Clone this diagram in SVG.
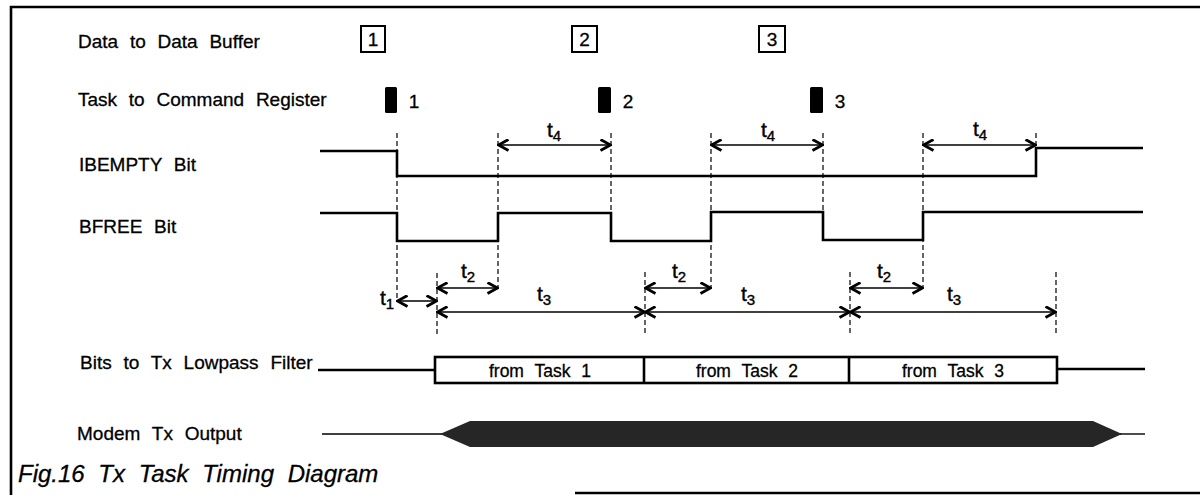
<svg xmlns="http://www.w3.org/2000/svg" width="1200" height="495" viewBox="0 0 1200 495">
<defs>
<marker id="ah" viewBox="0 0 13 13" refX="12" refY="6.5" markerWidth="13" markerHeight="13" markerUnits="userSpaceOnUse" orient="auto-start-reverse">
<path d="M1.5,1 L11.5,6.5 L1.5,12" fill="none" stroke="#000" stroke-width="2.8" stroke-linejoin="miter"/>
</marker>
<style>
.lbl{font-family:"Liberation Sans",Arial,sans-serif;font-size:19px;word-spacing:6.5px;fill:#000;stroke:#000;stroke-width:0.3}
.num{font-family:"Liberation Sans",Arial,sans-serif;font-size:19px;fill:#000;stroke:#000;stroke-width:0.3;text-anchor:middle}
.seg{font-family:"Liberation Sans",Arial,sans-serif;font-size:17.5px;word-spacing:6px;fill:#000;stroke:#000;stroke-width:0.3;text-anchor:middle}
.t{font-family:"Liberation Sans",Arial,sans-serif;font-size:21px;fill:#000;stroke:#000;stroke-width:0.4}
.sub{font-size:15px}
.title{font-family:"Liberation Sans",Arial,sans-serif;font-size:24px;font-style:italic;word-spacing:7px;fill:#000;stroke:#000;stroke-width:0.3}
.sig{fill:none;stroke:#000;stroke-width:2.6;stroke-linejoin:miter}
.thin{fill:none;stroke:#000;stroke-width:1.4}
.dash{fill:none;stroke:#000;stroke-width:1.2;stroke-dasharray:5 3}
.arr{fill:none;stroke:#000;stroke-width:1.4;marker-start:url(#ah);marker-end:url(#ah)}
.box{fill:#fff;stroke:#000;stroke-width:2}
.bar{fill:#000}
</style>
</defs>
<rect x="0" y="0" width="1200" height="495" fill="#fff"/>

<g id="frame" fill="none" stroke="#000" stroke-width="2.6">
<path d="M11,495 V7 H1200"/>
<path d="M575,493 H1200"/>
</g>

<g id="row-data">
<text class="lbl" x="78" y="48">Data to Data Buffer</text>
<g id="data1"><rect class="box" x="361" y="26" width="24" height="26"/><text class="num" x="373" y="46">1</text></g>
<g id="data2"><rect class="box" x="572" y="26" width="25" height="26"/><text class="num" x="584.5" y="46">2</text></g>
<g id="data3"><rect class="box" x="759" y="26" width="26" height="26"/><text class="num" x="772" y="46">3</text></g>
</g>

<g id="row-task">
<text class="lbl" x="78" y="106">Task to Command Register</text>
<g id="task1"><rect class="bar" x="385" y="87" width="12" height="26" rx="1.5"/><text class="num" x="414" y="108">1</text></g>
<g id="task2"><rect class="bar" x="598" y="87" width="13" height="26" rx="1.5"/><text class="num" x="628" y="108">2</text></g>
<g id="task3"><rect class="bar" x="810" y="87" width="13" height="26" rx="1.5"/><text class="num" x="840" y="108">3</text></g>
</g>

<g id="connectors">
<g id="dashes">
<path class="dash" d="M397,133 V302"/>
<path class="dash" d="M437,273 V335"/>
<path class="dash" d="M498,133 V288"/>
<path class="dash" d="M611,133 V213"/>
<path class="dash" d="M645,272 V335"/>
<path class="dash" d="M711,133 V288"/>
<path class="dash" d="M823,133 V213"/>
<path class="dash" d="M850,272 V335"/>
<path class="dash" d="M923,133 V288"/>
<path class="dash" d="M1036,133 V148"/>
<path class="dash" d="M1056,272 V334"/>
</g>
<g id="arrows">
<path class="arr" d="M498,145 H611"/>
<path class="arr" d="M711,145 H823"/>
<path class="arr" d="M923,145 H1036"/>
<path class="arr" d="M397,301 H437"/>
<path class="arr" d="M437,288 H498"/>
<path class="arr" d="M645,288 H711"/>
<path class="arr" d="M850,288 H923"/>
<path class="arr" d="M437,312 H645"/>
<path class="arr" d="M645,312 H850"/>
<path class="arr" d="M850,312 H1056"/>
</g>
<g id="timing-labels">
<text class="t" x="547" y="137">t<tspan class="sub" dy="4">4</tspan></text>
<text class="t" x="761" y="137">t<tspan class="sub" dy="4">4</tspan></text>
<text class="t" x="973" y="136">t<tspan class="sub" dy="4">4</tspan></text>
<text class="t" x="380" y="305">t<tspan class="sub" dy="4">1</tspan></text>
<text class="t" x="461" y="278">t<tspan class="sub" dy="4">2</tspan></text>
<text class="t" x="672" y="278">t<tspan class="sub" dy="4">2</tspan></text>
<text class="t" x="877" y="278">t<tspan class="sub" dy="4">2</tspan></text>
<text class="t" x="537" y="301">t<tspan class="sub" dy="4">3</tspan></text>
<text class="t" x="741" y="301">t<tspan class="sub" dy="4">3</tspan></text>
<text class="t" x="947" y="301">t<tspan class="sub" dy="4">3</tspan></text>
</g>
</g>

<g id="ibempty">
<text class="lbl" x="79" y="171">IBEMPTY Bit</text>
<path class="sig" d="M320,151 H397 V176 H1036 V148 H1143"/>
</g>

<g id="bfree">
<text class="lbl" x="79" y="233">BFREE Bit</text>
<path class="sig" d="M320,213 H397 V241 H498 V213 H611 V241 H711 V212 H823 V240 H923 V212 H1143"/>
</g>

<g id="bits">
<text class="lbl" x="80" y="369">Bits to Tx Lowpass Filter</text>
<path class="sig" d="M318,370 H435"/>
<path class="sig" d="M1057,369 H1145"/>
<rect class="sig" x="435" y="357" width="622" height="26"/>
<path class="sig" d="M644,357 V383 M849,357 V383"/>
<text class="seg" x="540" y="377">from Task 1</text>
<text class="seg" x="747" y="377">from Task 2</text>
<text class="seg" x="953" y="377">from Task 3</text>
</g>

<g id="modem">
<text class="lbl" x="77" y="440">Modem Tx Output</text>
<path class="thin" d="M322,434 H442"/>
<path d="M440,434 L470,421 H1093 L1122,434 L1093,447 H470 Z" fill="#262626"/>
<path class="thin" d="M1120,434 H1145"/>
</g>

<text id="caption" class="title" x="18" y="482">Fig.16 Tx Task Timing Diagram</text>
</svg>
